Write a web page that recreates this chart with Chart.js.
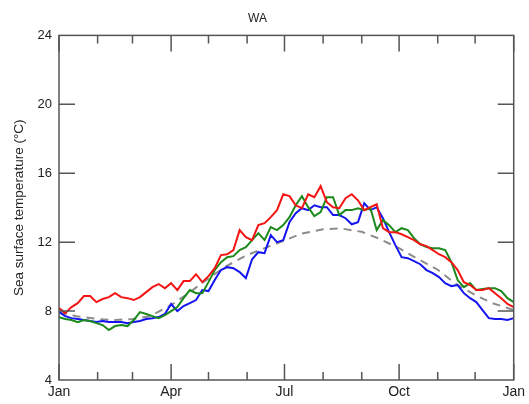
<!DOCTYPE html>
<html>
<head>
<meta charset="utf-8">
<script src="https://cdn.jsdelivr.net/npm/chart.js@4.4.1/dist/chart.umd.min.js"></script>
<style>
  html, body { margin: 0; padding: 0; background: #ffffff; }
  canvas { display: block; }
</style>
</head>
<body>
<canvas id="c" width="529" height="404"></canvas>
<script>
// ---- Data (day of year, °C) ----
const sampleDays = [0,5,10,15,20,25,30,35,40,45,50,55,60,65,70,75,80,85,90,95,100,105,110,115,120,125,130,135,140,145,150,155,160,165,170,175,180,185,190,195,200,205,210,215,220,225,230,235,240,245,250,255,260,265,270,275,280,285,290,295,300,305,310,315,320,325,330,335,340,345,350,355,360,365];

const redSeries = [8.17,7.88,8.23,8.46,8.87,8.87,8.52,8.70,8.81,9.04,
  8.81,8.75,8.64,8.81,9.10,9.39,9.57,9.33,9.62,9.22,
  9.74,9.74,10.14,9.68,10.03,10.49,11.25,11.30,11.54,12.70,
  12.29,12.12,12.99,13.10,13.45,13.86,14.78,14.67,14.14,13.97,
  14.78,14.61,15.25,14.32,14.03,13.97,14.55,14.78,14.43,13.86,
  14.03,14.20,12.81,12.58,12.58,12.46,12.29,12.12,11.88,11.77,
  11.54,11.30,11.13,10.84,10.38,9.68,9.51,9.22,9.22,9.33,
  9.04,8.75,8.41,8.23];

const greenSeries = [7.65,7.54,7.48,7.36,7.48,7.42,7.30,7.19,6.90,7.13,
  7.19,7.13,7.48,7.94,7.83,7.71,7.59,7.77,8.00,8.23,
  8.75,9.22,9.04,9.04,9.68,10.38,10.84,11.13,11.19,11.54,
  11.71,12.12,12.52,12.12,12.87,12.70,12.99,13.45,14.14,14.67,
  14.03,13.51,13.74,14.61,14.61,13.57,13.86,13.86,13.97,13.86,
  13.97,12.70,13.28,12.99,12.58,12.81,12.70,12.23,11.88,11.71,
  11.65,11.65,11.54,10.84,9.80,9.39,9.62,9.22,9.28,9.33,
  9.33,9.16,8.75,8.52];

const blueSeries = [7.94,7.71,7.59,7.54,7.48,7.42,7.36,7.42,7.36,7.36,
  7.36,7.30,7.36,7.42,7.54,7.59,7.65,7.83,8.41,8.00,
  8.29,8.46,8.64,9.22,9.16,9.80,10.38,10.55,10.49,10.26,
  9.91,11.01,11.42,11.36,12.41,12.00,12.12,13.16,13.68,13.97,
  13.86,14.14,14.03,14.03,13.57,13.57,13.39,13.04,13.16,14.26,
  13.86,14.03,13.39,12.58,11.83,11.13,11.07,10.90,10.72,10.38,
  10.20,9.97,9.62,9.45,9.51,9.04,8.75,8.52,8.06,7.59,
  7.54,7.54,7.48,7.59];

const climDays = [0,14,31,45,59,73,90,104,120,134,151,165,181,195,212,226,243,257,273,287,304,318,334,348,365];
const climSeries = [7.94,7.70,7.54,7.48,7.54,7.70,8.35,9.04,9.90,10.60,11.25,11.65,12.10,12.50,12.75,12.80,12.60,12.20,11.65,11.07,10.40,9.60,8.93,8.46,8.06];

const xTickDays = [0,90,181,273,365];
const xTickLabels = ['Jan','Apr','Jul','Oct','Jan'];
const monthStartDays = [0,31,59,90,120,151,181,212,243,273,304,334,365];
const yTickValues = [4,8,12,16,20,24];

// ---- helpers ----
const toPts = (xs, ys) => xs.map((d, i) => ({ x: d, y: ys[i] }));

const frameTicks = {
  id: 'frameTicks',
  afterDatasetsDraw(chart) {
    const { ctx, chartArea: { left, right, top, bottom }, scales: { x, y } } = chart;
    ctx.save();
    ctx.strokeStyle = '#555555';
    ctx.lineWidth = 1.5;
    ctx.strokeRect(left, top, right - left, bottom - top);
    ctx.beginPath();
    monthStartDays.forEach(d => {
      const px = x.getPixelForValue(d);
      const L = xTickDays.includes(d) ? 16 : 8;
      ctx.moveTo(px, bottom); ctx.lineTo(px, bottom - L);
      ctx.moveTo(px, top); ctx.lineTo(px, top + L);
    });
    yTickValues.slice(1, -1).forEach(v => {
      const py = y.getPixelForValue(v);
      ctx.moveTo(left, py); ctx.lineTo(left + 16, py);
      ctx.moveTo(right, py); ctx.lineTo(right - 16, py);
    });
    ctx.stroke();
    ctx.restore();
  }
};

const lineDs = (label, pts, color, extra) => Object.assign({
  label, data: pts, borderColor: color, backgroundColor: color,
  borderWidth: 2, pointRadius: 0, fill: false, tension: 0
}, extra || {});

new Chart(document.getElementById('c'), {
  type: 'line',
  data: {
    datasets: [
      lineDs('Red', toPts(sampleDays, redSeries), '#f41414'),
      lineDs('Green', toPts(sampleDays, greenSeries), '#1b8a1b'),
      lineDs('Blue', toPts(sampleDays, blueSeries), '#1414f0'),
      lineDs('Climatology', toPts(climDays, climSeries), '#8c8c8c', { borderDash: [8, 6] })
    ]
  },
  options: {
    responsive: false,
    animation: false,
    layout: { padding: { left: 0, right: 14, top: 0, bottom: 0 } },
    plugins: {
      legend: { display: false },
      tooltip: { enabled: false },
      title: {
        display: true,
        text: 'WA',
        color: '#222222',
        font: { family: 'Liberation Sans', size: 12, weight: 'normal' },
        padding: { top: 11, bottom: 10 }
      }
    },
    scales: {
      x: {
        type: 'linear',
        min: 0, max: 365,
        grid: { display: false, drawTicks: false },
        border: { display: false },
        afterBuildTicks: s => { s.ticks = xTickDays.map(v => ({ value: v })); },
        afterFit: s => { s.height = 24; },
        ticks: {
          autoSkip: false, maxRotation: 0, padding: 4,
          color: '#222222',
          font: { family: 'Liberation Sans', size: 14 },
          callback: (v, i) => xTickLabels[i]
        }
      },
      y: {
        min: 4, max: 24,
        grid: { display: false, drawTicks: false },
        border: { display: false },
        afterBuildTicks: s => { s.ticks = yTickValues.map(v => ({ value: v })); },
        afterFit: s => { s.width = 59; },
        ticks: {
          padding: 7,
          color: '#222222',
          font: { family: 'Liberation Sans', size: 13 }
        },
        title: {
          display: true,
          text: 'Sea surface temperature (°C)',
          color: '#222222',
          font: { family: 'Liberation Sans', size: 13.5 },
          padding: { top: 11, bottom: 0 }
        }
      }
    }
  },
  plugins: [frameTicks]
});
</script>
</body>
</html>
